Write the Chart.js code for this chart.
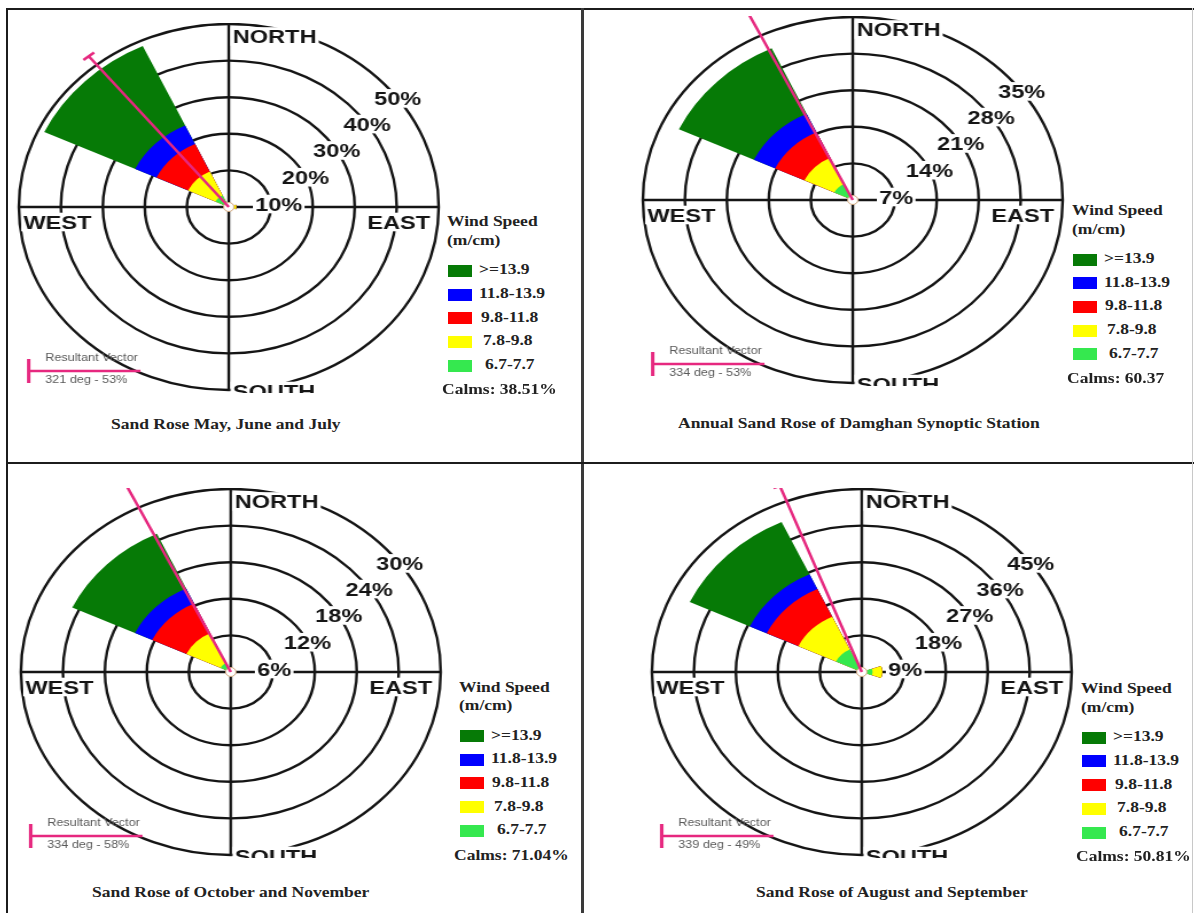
<!DOCTYPE html>
<html><head><meta charset="utf-8">
<script src="https://cdn.jsdelivr.net/npm/chart.js@4.4.1/dist/chart.umd.min.js"></script>
<style>
html,body{margin:0;padding:0;background:#fff;}
#fig{position:relative;width:1195px;height:913px;overflow:hidden;background:#fff;}
.ln{position:absolute;background:#1c1c1c;}
.wrap{position:absolute;transform-origin:0 0;}
.txt{position:absolute;white-space:pre;font:bold 14px "Liberation Serif","Times New Roman",serif;color:#222;line-height:14px;transform-origin:0 50%;transform:scaleX(1.25);}
.box{position:absolute;width:24px;height:12px;}
</style></head><body><div id="fig"></div>
<script>
// ---------------- DATA ----------------
const directions = ['N','NE','E','SE','S','SW','W','NW'];
const speedClasses = ['>=13.9','11.8-13.9','9.8-11.8','7.8-9.8','6.7-7.7'];
const legendTitle = ['Wind Speed','(m/cm)'];
const compassNames = ['NORTH','EAST','SOUTH','WEST'];

// Panel 1 : May, June and July  (frequency % per direction, per speed class)
const mjjTitle = 'Sand Rose May, June and July';
const mjjTicks = [10,20,30,40,50];
const mjjTickLabels = ['10%','20%','30%','40%','50%'];
const mjjGe139   = [0,0,0,0,0,0,0,23.9];
const mjj118_139 = [0,0,0,0,0,0,0,5.6];
const mjj98_118  = [0,0,0,0,0,0,0,8.3];
const mjj78_98   = [0,0,1.0,0,0,0,0,7.2];
const mjj67_77   = [0,0,0.8,0,0,0,0,3.5];
const mjjResultant = [321,53];
const mjjResultantLabel = '321 deg - 53%';
const mjjCalms = 'Calms: 38.51%';

// Panel 2 : Annual, Damghan Synoptic Station
const annTitle = 'Annual Sand Rose of Damghan Synoptic Station';
const annTicks = [7,14,21,28,35];
const annTickLabels = ['7%','14%','21%','28%','35%'];
const annGe139   = [0,0,0,0,0,0,0,13.8];
const ann118_139 = [0,0,0,0,0,0,0,3.9];
const ann98_118  = [0,0,0,0,0,0,0,5.4];
const ann78_98   = [0,0,0,0,0,0,0,5.5];
const ann67_77   = [0,0,0,0,0,0,0,3.4];
const annResultant = [334,53];
const annResultantLabel = '334 deg - 53%';
const annCalms = 'Calms: 60.37';

// Panel 3 : October and November
const onTitle = 'Sand Rose of October and November';
const onTicks = [6,12,18,24,30];
const onTickLabels = ['6%','12%','18%','24%','30%'];
const onGe139   = [0,0,0,0,0,0,0,9.9];
const on118_139 = [0,0,0,0,0,0,0,2.7];
const on98_118  = [0,0,0,0,0,0,0,5.4];
const on78_98   = [0,0,0,0,0,0,0,5.4];
const on67_77   = [0,0,0,0,0,0,0,1.6];
const onResultant = [334,58];
const onResultantLabel = '334 deg - 58%';
const onCalms = 'Calms: 71.04%';

// Panel 4 : August and September
const asTitle = 'Sand Rose of August and September';
const asTicks = [9,18,27,36,45];
const asTickLabels = ['9%','18%','27%','36%','45%'];
const asGe139   = [0,0,0,0,0,0,0,14.2];
const as118_139 = [0,0,0,0,0,0,0,4.0];
const as98_118  = [0,0,0,0,0,0,0,7.5];
const as78_98   = [0,0,2.1,0,0,0,0,8.9];
const as67_77   = [0,0,2.3,0,0,0,0,6.1];
const asResultant = [339,49];
const asResultantLabel = '339 deg - 49%';
const asCalms = 'Calms: 50.81%';

// ---------------- STYLE / LAYOUT ----------------
const classColors = ['#067a06','#0000ff','#ff0000','#ffff00','#35e84f'];
const PINK = '#e6287f', INK = '#151515';
const S = 1.147, R = 183, M = 6, H = 370;
const FS = 19, TX = 1.08, CAP = 0.716 * FS;
const SECTOR = 40, GAP = 5;
const LW = 2.4;
const RING_BEARINGS = [85, 66, 59, 55.5, 53.6];
const LABEL_DX = [31, 31, 32.4, 34.4, 36.7];

const panels = [
  {cx:228.4, cy:206.7, boxX:448.3, box0:270.8, titleX:111, titleY:425,
   classes:[mjjGe139,mjj118_139,mjj98_118,mjj78_98,mjj67_77], ticks:mjjTicks, tickLabels:mjjTickLabels,
   resultant:mjjResultant, resLabel:mjjResultantLabel, calms:mjjCalms, title:mjjTitle},
  {cx:852.5, cy:200, boxX:1072.6, box0:259.5, titleX:678, titleY:424,
   classes:[annGe139,ann118_139,ann98_118,ann78_98,ann67_77], ticks:annTicks, tickLabels:annTickLabels,
   resultant:annResultant, resLabel:annResultantLabel, calms:annCalms, title:annTitle},
  {cx:230.3, cy:672.3, boxX:460, box0:736, titleX:92, titleY:893.3,
   classes:[onGe139,on118_139,on98_118,on78_98,on67_77], ticks:onTicks, tickLabels:onTickLabels,
   resultant:onResultant, resLabel:onResultantLabel, calms:onCalms, title:onTitle},
  {cx:862.2, cy:671.7, boxX:1082.3, box0:737.7, titleX:756, titleY:893.3,
   classes:[asGe139,as118_139,as98_118,as78_98,as67_77], ticks:asTicks, tickLabels:asTickLabels,
   resultant:asResultant, resLabel:asResultantLabel, calms:asCalms, title:asTitle}
];

const fig = document.getElementById('fig');
function addLine(l,t,w,h,c){const d=document.createElement('div');d.className='ln';Object.assign(d.style,{left:l+'px',top:t+'px',width:w+'px',height:h+'px'});if(c)d.style.background=c;fig.appendChild(d);}
addLine(6,8,1188,2);
addLine(6,8,2,905);
addLine(581,8,3,905,'#3a3a3a');
addLine(6,462,1188,2);
addLine(1192,8,1,905,'#c8c8c8');

function addText(str,x,yc){const d=document.createElement('div');d.className='txt';d.textContent=str;d.style.left=x+'px';d.style.top=(yc-7.5)+'px';fig.appendChild(d);}

function drawLabel(ctx, txt, x, yc, align) {
  const w = ctx.measureText(txt).width * TX;
  const left = align === 'left' ? x : align === 'right' ? x - w : x - w / 2;
  ctx.fillStyle = '#fff';
  ctx.fillRect(left - 2, yc - CAP / 2 - 2.5, w + 4, CAP + 5);
  ctx.fillStyle = INK;
  ctx.save(); ctx.translate(left, yc + CAP / 2); ctx.scale(TX, 1);
  ctx.textAlign = 'left'; ctx.textBaseline = 'alphabetic'; ctx.fillText(txt, 0, 0); ctx.restore();
}

function makePlugin(p) {
  return {
    id: 'rose',
    beforeDatasetsDraw(chart) {
      const sc = chart.scales.r, ctx = chart.ctx;
      const x = sc.xCenter, y = sc.yCenter, r = sc.drawingArea;
      ctx.save(); ctx.strokeStyle = INK; ctx.lineWidth = LW;
      ctx.beginPath(); ctx.moveTo(x - r, y); ctx.lineTo(x + r, y); ctx.moveTo(x, y - r); ctx.lineTo(x, y + r); ctx.stroke();
      ctx.restore();
    },
    afterDatasetsDraw(chart) {
      const sc = chart.scales.r, ctx = chart.ctx;
      const x0 = sc.xCenter, y0 = sc.yCenter;
      ctx.save();
      // calm circle
      ctx.fillStyle = '#fff'; ctx.strokeStyle = '#cfa57c'; ctx.lineWidth = 1;
      ctx.beginPath(); ctx.arc(x0, y0, 4.5, 0, Math.PI * 2); ctx.fill(); ctx.stroke();
      // ring labels
      ctx.font = 'bold ' + FS + 'px "Liberation Sans", Arial, sans-serif';
      p.ticks.forEach((v, i) => {
        const txt = p.tickLabels[i];
        if (i === 0) { drawLabel(ctx, txt, x0 + 23, y0 - 3, 'left'); return; }
        const b = RING_BEARINGS[i] * Math.PI / 180;
        const rr = sc.getDistanceFromCenterForValue(v);
        drawLabel(ctx, txt, x0 + rr * Math.sin(b), y0 - rr * Math.cos(b), 'center');
      });
      // compass labels
      drawLabel(ctx, compassNames[0], x0 + 3.5, y0 - 170.5, 'left');
      drawLabel(ctx, compassNames[1], x0 + 175.5, y0 + 15, 'right');
      drawLabel(ctx, compassNames[2], x0 + 3.5, y0 + 184, 'left');
      drawLabel(ctx, compassNames[3], x0 - 179, y0 + 15, 'left');
      // resultant vector
      const a = p.resultant[0] * Math.PI / 180;
      const rr = sc.getDistanceFromCenterForValue(p.resultant[1]);
      const ex = x0 + rr * Math.sin(a), ey = y0 - rr * Math.cos(a);
      ctx.strokeStyle = PINK; ctx.lineWidth = 2.5; ctx.lineCap = 'butt';
      ctx.beginPath(); ctx.moveTo(x0, y0); ctx.lineTo(ex, ey);
      ctx.moveTo(ex - 6 * Math.cos(a), ey - 6 * Math.sin(a)); ctx.lineTo(ex + 6 * Math.cos(a), ey + 6 * Math.sin(a));
      ctx.stroke();
      // resultant legend
      ctx.lineWidth = 2.5;
      ctx.beginPath(); ctx.moveTo(x0 - 174.4, y0 + 164); ctx.lineTo(x0 - 77, y0 + 164); ctx.stroke();
      ctx.lineWidth = 3;
      ctx.beginPath(); ctx.moveTo(x0 - 174.4, y0 + 152); ctx.lineTo(x0 - 174.4, y0 + 176); ctx.stroke();
      ctx.fillStyle = '#5a5a5a'; ctx.font = '11px "Liberation Sans", Arial, sans-serif';
      ctx.textAlign = 'left'; ctx.textBaseline = 'middle';
      ctx.fillText('Resultant Vector', x0 - 160, y0 + 150.5);
      ctx.fillText(p.resLabel, x0 - 160, y0 + 172.5);
      ctx.restore();
    }
  };
}

panels.forEach(p => {
  const wrap = document.createElement('div');
  wrap.className = 'wrap';
  Object.assign(wrap.style, {left:(p.cx - (R + M) * S) + 'px', top:(p.cy - R - 1) + 'px',
    width:(2 * R + 2 * M) + 'px', height:H + 'px', transform:'scaleX(' + S + ')'});
  const cv = document.createElement('canvas');
  wrap.appendChild(cv); fig.appendChild(wrap);

  // cumulative stacking from the slowest class outward
  const cum = {};
  let run = directions.map(() => 0);
  for (let k = speedClasses.length - 1; k >= 0; k--) {
    run = run.map((v, i) => v + p.classes[k][i]);
    cum[k] = run.slice();
  }
  // each direction is followed by a narrow empty gap slice
  const labels16 = directions.flatMap(d => [d, '']);
  const datasets = [];
  for (let k = speedClasses.length - 1; k >= 0; k--) {
    datasets.push({label:speedClasses[k], data:cum[k].flatMap(v => [v, 0]),
      backgroundColor:classColors[k], borderWidth:0,
      angle:(c) => (c.dataIndex % 2 ? GAP : SECTOR)});
  }
  const step = p.ticks[1] - p.ticks[0];
  new Chart(cv, {
    type:'polarArea',
    data:{labels:labels16, datasets},
    options:{
      responsive:true, maintainAspectRatio:false, animation:false,
      layout:{padding:{top:1, bottom:H - 1 - 2 * R, left:M, right:M}},
      plugins:{legend:{display:false}, tooltip:{enabled:false}},
      scales:{r:{min:0, max:p.ticks[p.ticks.length - 1], startAngle:-SECTOR / 2,
        ticks:{display:false, stepSize:step},
        grid:{circular:true, color:INK, lineWidth:LW},
        angleLines:{display:false}, pointLabels:{display:false}}}
    },
    plugins:[makePlugin(p)]
  });

  // HTML legend and title
  addText(legendTitle[0], p.boxX - 1, p.box0 - 48);
  addText(legendTitle[1], p.boxX - 1, p.box0 - 29.5);
  speedClasses.forEach((lab, k) => {
    const yc = p.box0 + k * 23.7;
    const b = document.createElement('div'); b.className = 'box';
    Object.assign(b.style, {left:p.boxX + 'px', top:(yc - 6) + 'px', background:classColors[k]});
    fig.appendChild(b);
    addText(lab, p.boxX + LABEL_DX[k], yc);
  });
  addText(p.calms, p.boxX - 6, p.box0 + 120);
  addText(p.title, p.titleX, p.titleY);
});
</script>
</body></html>
